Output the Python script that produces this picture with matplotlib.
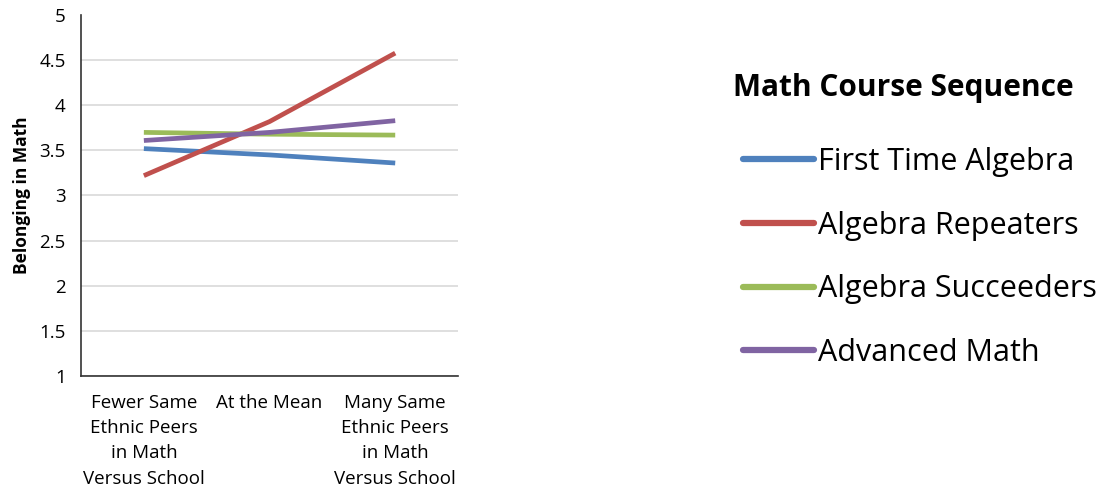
import matplotlib
matplotlib.use('Agg')
import matplotlib.pyplot as plt

plt.rcParams['font.family'] = ['Open Sans', 'DejaVu Sans']

# categories on the x axis
categories = ['Fewer Same\nEthnic Peers\nin Math\nVersus School',
              'At the Mean',
              'Many Same\nEthnic Peers\nin Math\nVersus School']

# series values
first_time_algebra = [3.52, 3.45, 3.36]
algebra_repeaters = [3.22, 3.82, 4.58]
algebra_succeeders = [3.70, 3.68, 3.67]
advanced_math = [3.61, 3.70, 3.83]

series_names = ['First Time Algebra', 'Algebra Repeaters',
                'Algebra Succeeders', 'Advanced Math']
series_colors = ['#4F81BD', '#C0504D', '#9BBB59', '#8064A2']

y_ticks = [1, 1.5, 2, 2.5, 3, 3.5, 4, 4.5, 5]
y_tick_labels = ['1', '1.5', '2', '2.5', '3', '3.5', '4', '4.5', '5']

fig = plt.figure(figsize=(11.04, 4.92), dpi=100)
ax = fig.add_axes([0.0734, 0.2364, 0.3415, 0.7326])

x = range(len(categories))
all_series = [first_time_algebra, algebra_repeaters, algebra_succeeders, advanced_math]
for vals, name, col in zip(all_series, series_names, series_colors):
    ax.plot(x, vals, color=col, lw=3.4, label=name, solid_capstyle='butt')

ax.set_xlim(-0.5, 2.5)
ax.set_ylim(1, 5)
ax.set_yticks(y_ticks)
ax.set_yticklabels(y_tick_labels, fontsize=13.5)
ax.set_xticks(list(x))
ax.set_xticklabels(categories, fontsize=13.5, linespacing=1.52)
ax.tick_params(axis='both', length=0)
ax.tick_params(axis='y', pad=11)
ax.tick_params(axis='x', pad=13)

ax.grid(axis='y', color='#D9D9D9', lw=1.2)
ax.yaxis.get_gridlines()[-1].set_visible(False)
ax.set_axisbelow(True)
for s in ['top', 'right']:
    ax.spines[s].set_visible(False)
for s in ['left', 'bottom']:
    ax.spines[s].set_color('#333333')
    ax.spines[s].set_linewidth(1.2)

ax.set_ylabel('Belonging in Math', fontsize=12.5, fontweight='bold', labelpad=6)

# legend title drawn separately so it can sit left of the handles
fig.text(733 / 1104, 1 - 88 / 492, 'Math Course Sequence', fontsize=21.5,
         fontweight='bold', ha='left', va='center')

leg = fig.legend(loc='upper left', bbox_to_anchor=(0.6484, 0.757), frameon=False,
                 fontsize=22, handlelength=2.3, handletextpad=0.15,
                 labelspacing=1.1)
for h in leg.legend_handles:
    h.set_linewidth(4.5)
    h.set_solid_capstyle('round')

fig.savefig('out.png', dpi=100)
